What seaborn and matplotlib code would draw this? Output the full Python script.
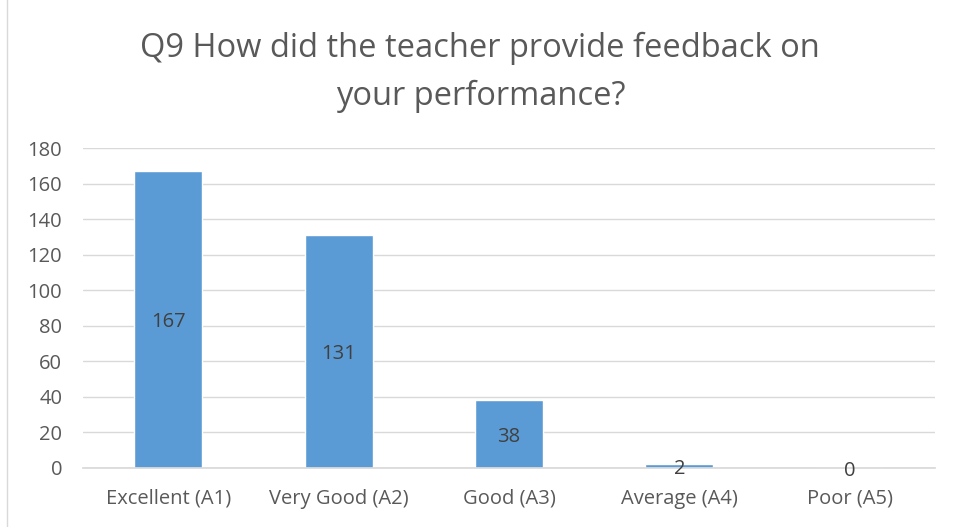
import matplotlib.pyplot as plt
import seaborn as sns
from matplotlib.patches import Rectangle

# Ответы на вопрос Q9
categories = ['Excellent (A1)', 'Very Good (A2)', 'Good (A3)', 'Average (A4)', 'Poor (A5)']
counts = [167, 131, 38, 2, 0]
y_ticks = list(range(0, 181, 20))

sns.set_theme(style="whitegrid")
plt.rcParams['font.family'] = ['Open Sans', 'DejaVu Sans']

fig = plt.figure(figsize=(9.55, 5.27), dpi=100)
ax = fig.add_axes([0.087, 0.112, 0.892, 0.607])

sns.barplot(x=categories, y=counts, color='#5B9BD5', saturation=1, width=0.4, ax=ax)

# Подписи значений в центре столбцов
for i, c in enumerate(counts):
    ax.text(i, c / 2 - 1.5, str(c), ha='center', va='center', fontsize=14.5, color='#404040')

ax.set_ylim(0, 180)
ax.set_yticks(y_ticks)
ax.set_xlim(-0.5, len(categories) - 0.5)
ax.grid(axis='y', color='#D9D9D9', linewidth=1)
ax.grid(axis='x', visible=False)
ax.set_axisbelow(True)
for side in ['left', 'right', 'top']:
    ax.spines[side].set_visible(False)
ax.spines['bottom'].set_color('#D9D9D9')
ax.tick_params(axis='both', labelsize=14.5, labelcolor='#595959', length=0)
ax.tick_params(axis='y', pad=15)
ax.tick_params(axis='x', pad=15)
ax.set_xlabel('')
ax.set_ylabel('')

fig.text(0.503, 0.862, 'Q9 How did the teacher provide feedback on\nyour performance?',
         ha='center', va='center', fontsize=23.5, color='#595959', linespacing=1.58)

# Рамка вокруг диаграммы
fig.patches.append(Rectangle((0.007, -0.01), 1.0, 1.02, transform=fig.transFigure,
                             fill=False, edgecolor='#D9D9D9', linewidth=1))

fig.savefig('out.png', dpi=100)
